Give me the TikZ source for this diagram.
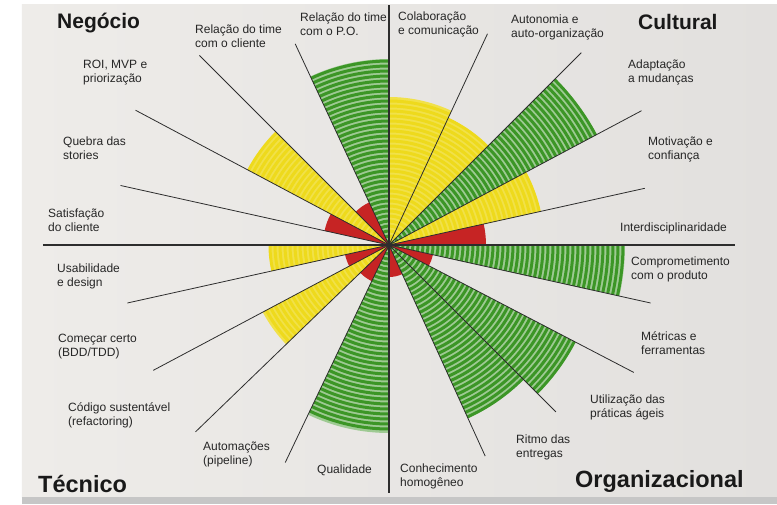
\documentclass[tikz,border=0pt]{standalone}
\usepackage{fontspec}
\setmainfont{Liberation Sans}
\usetikzlibrary{positioning}
\definecolor{papel}{RGB}{238,236,233}
\definecolor{papelesc}{RGB}{226,224,222}
\definecolor{verde}{RGB}{60,150,38}
\definecolor{amarelo}{RGB}{238,218,28}
\definecolor{vermelho}{RGB}{198,36,36}
\definecolor{traco}{RGB}{45,45,45}
\tikzset{
    radar/.style={x=1pt,y=1pt},
    eixo/.style={draw=traco, line width=1.6pt},
    raio/.style={draw=traco, line width=0.8pt},
    hachura/.style={line width=3pt},
    rotulo/.style={anchor=north west, inner sep=0pt, align=left,
                   font=\fontsize{12}{14}\selectfont, text=black!85},
    titulo/.style={anchor=base west, inner sep=0pt,
                   font=\bfseries\fontsize{21}{24}\selectfont, text=black!90},
    titulog/.style={titulo, font=\bfseries\fontsize{23.5}{26}\selectfont},
    }

\begin{document}
\begin{tikzpicture}[radar]
            \useasboundingbox (-389,-259) rectangle (388,245);
            \fill[white] (-389,-259) rectangle (388,245);
            \shade[left color=papel, right color=papelesc] (-367,-252) rectangle (388,241);
            \fill[gray!45] (-367,-259) rectangle (388,-252);

            \coordinate (c) at (0,0);

            % niveis hachurados
            \foreach \a/\b/\r/\cor/\claro in {12.5/28/155/amarelo/80, 28/45/235/verde/50,
                    45/65/140/amarelo/80, 65/90/148/amarelo/80, 90/115/186/verde/50,
                    135/152/160/amarelo/80, 180/192.5/119/amarelo/80, 208/224/143/amarelo/80,
                    244.5/270/188/verde/50, 294.5/315/190/verde/50, 315/332.5/210/verde/50,
                    347.5/360/236/verde/50} {
                \fill[\cor!\claro!white] (c) -- (\a:\r) arc[start angle=\a, end angle=\b, radius=\r] -- cycle;
                \foreach \s in {4,9,...,\r}
                    \draw[\cor, hachura] (\a:\s) arc[start angle=\a, end angle=\b, radius=\s];
            }
            % niveis baixos
            \foreach \a/\b/\r in {0/12.5/97, 115/135/47, 152/167.5/66, 192.5/208/45,
                    224/244.5/40, 270/294.5/32, 332.5/347.5/45} {
                \fill[vermelho] (c) -- (\a:\r) arc[start angle=\a, end angle=\b, radius=\r] -- cycle;
            }

            % raios
            \foreach \a/\l [count=\i] in {12.5/262, 28/286, 45/272, 65/233,
                    115/222, 135/268, 152/287, 167.5/275, 192.5/268, 208/267,
                    224/269, 244.5/241, 294.5/232, 315/236, 332.5/276, 347.5/268} {
                \coordinate (r\i) at (\a:\l);
                \draw[raio] (c) -- (r\i);
            }

            % eixos
            \coordinate (xe) at (-346,0);
            \coordinate (xd) at (346,0);
            \coordinate (yc) at (0,240);
            \coordinate (yb) at (0,-248);
            \draw[eixo] (xe) -- (xd);
            \draw[eixo] (yc) -- (yb);

            % quadrantes
            \node[titulo] (negocio) at (-332,217) {Negócio};
            \node[titulo] (cultural) at (249,216) {Cultural};
            \node[titulog] (tecnico) at (-351,-247) {Técnico};
            \node[titulog] (organiz) at (186,-242) {Organizacional};

            % rotulos
            \node[rotulo] (relpo) at (-89,232) {Relação do time\\com o P.O.};
            \node[rotulo] (relcli) at (-194,220) {Relação do time\\com o cliente};
            \node[rotulo] (roi) at (-306,185) {ROI, MVP e\\priorização};
            \node[rotulo] (quebra) at (-326,108) {Quebra das\\stories};
            \node[rotulo] (satisf) at (-341,36) {Satisfação\\do cliente};

            \node[rotulo] (colab) at (9,233) {Colaboração\\e comunicação};
            \node[rotulo] (auton) at (122,230) {Autonomia e\\auto-organização};
            \node[rotulo] (adapt) at (239,185) {Adaptação\\a mudanças};
            \node[rotulo] (motiv) at (259,108) {Motivação e\\confiança};
            \node[rotulo] (interd) at (231,22) {Interdisciplinaridade};

            \node[rotulo] (usab) at (-332,-19) {Usabilidade\\e design};
            \node[rotulo] (comecar) at (-331,-89) {Começar certo\\(BDD/TDD)};
            \node[rotulo] (codigo) at (-321,-157) {Código sustentável\\(refactoring)};
            \node[rotulo] (autom) at (-186,-197) {Automações\\(pipeline)};
            \node[rotulo] (qualid) at (-72,-220) {Qualidade};

            \node[rotulo] (compr) at (242,-12) {Comprometimento\\com o produto};
            \node[rotulo] (metric) at (252,-86) {Métricas e\\ferramentas};
            \node[rotulo] (utiliz) at (201,-150) {Utilização das\\práticas ágeis};
            \node[rotulo] (ritmo) at (127,-190) {Ritmo das\\entregas};
            \node[rotulo] (conhec) at (11,-219) {Conhecimento\\homogêneo};
        \end{tikzpicture}
\end{document}
